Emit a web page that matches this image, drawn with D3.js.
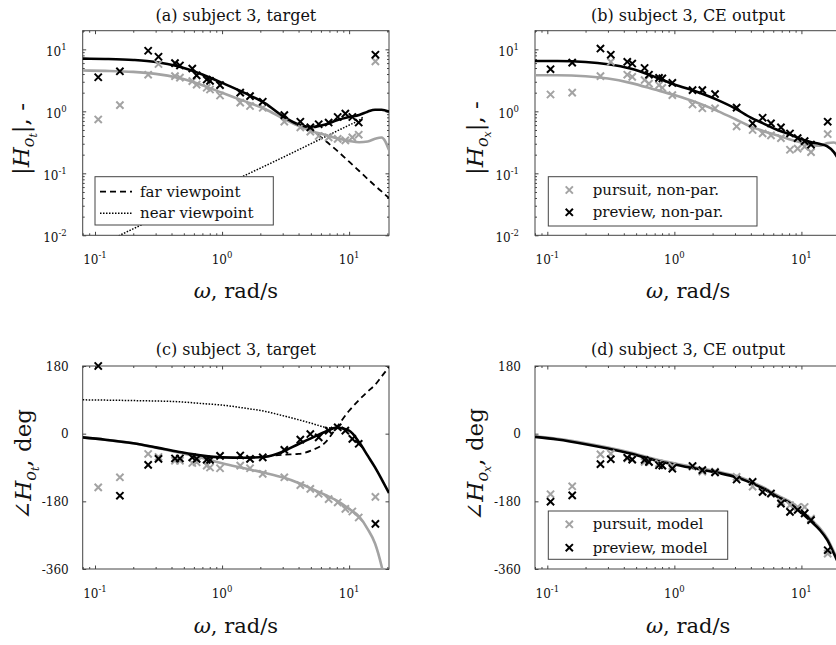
<!DOCTYPE html>
<html>
<head>
<meta charset="utf-8">
<script src="https://cdn.jsdelivr.net/npm/d3@7"></script>
<style>
  body { margin: 0; background: #fff; }
  svg { display: block; font-family: 'DejaVu Serif', serif; }
</style>
</head>
<body>
<script>
// ---- data ----
// frequencies of the non-parametric estimates, rad/s
const freq = [0.106, 0.157, 0.262, 0.316, 0.426, 0.466, 0.583, 0.631, 0.757, 0.804, 0.964, 1.39,
              1.66, 2.09, 3.09, 4.13, 4.95, 5.76, 6.90, 8.13, 9.34, 10.6, 11.9, 16.1];

// (a) |H_ot|
const magT_pursuit = [0.74, 1.26, 3.9, 5.8, 3.7, 3.5, 3.07, 2.7, 2.4, 2.25, 1.8, 1.38,
                      1.22, 1.14, 0.68, 0.55, 0.47, 0.40, 0.38, 0.36, 0.34, 0.38, 0.42, 6.4];
const magT_preview = [3.55, 4.43, 9.5, 7.6, 6.0, 5.5, 4.9, 3.8, 3.26, 3.1, 2.65, 2.0,
                      1.76, 1.43, 0.87, 0.68, 0.55, 0.62, 0.66, 0.81, 0.92, 0.81, 0.66, 8.2];
// (b) |H_ox|
const magX_pursuit = [1.87, 2.0, 3.7, 6.3, 3.9, 3.6, 3.2, 2.8, 2.64, 2.4, 1.83, 1.29,
                      1.12, 1.12, 0.57, 0.50, 0.44, 0.41, 0.37, 0.24, 0.25, 0.27, 0.22, 0.43];
const magX_preview = [4.78, 6.1, 10.3, 8.2, 6.3, 5.9, 5.0, 3.9, 3.47, 3.4, 2.88, 2.2,
                      2.2, 1.9, 1.15, 0.64, 0.79, 0.64, 0.55, 0.44, 0.37, 0.33, 0.29, 0.68];
// (c) phase H_ot, deg
const phT_pursuit = [-143, -116, -54, -62, -72, -72, -78, -76, -85, -90, -92, -85,
                     -92, -107, -116, -137, -147, -160, -174, -183, -200, -207, -223, -168];
const phT_preview = [180, -165, -83, -67, -66, -66, -63, -67, -69, -70, -59, -58,
                     -67, -63, -43, -16, -1, -10, 8, 17, 8, -14, -27, -240];
// (d) phase H_ox, deg
const phX_pursuit = [-161, -140, -55, -53, -66, -68, -75, -76, -79, -84, -86, -88,
                     -101, -101, -115, -141, -155, -160, -181, -190, -195, -195, -226, -319];
const phX_preview = [-181, -164, -81, -68, -64, -69, -70, -75, -84, -85, -93, -86,
                     -97, -103, -122, -128, -155, -159, -186, -208, -203, -212, -230, -310];

// model curves
const modelFreq = [0.08, 0.12, 0.2, 0.3, 0.45, 0.7, 1, 1.5, 2.2, 3, 4, 5, 6.5, 8, 10, 12, 14, 16, 18, 20.6];
const magT_pursuitModel = [4.55, 4.49, 4.33, 4.02, 3.47, 2.64, 1.99, 1.46, 1.08, 0.772, 0.582, 0.484,
                           0.417, 0.369, 0.334, 0.318, 0.326, 0.36, 0.378, 0.237];
const magT_previewModel = [7.08, 7.0, 6.75, 6.27, 5.33, 3.92, 2.88, 1.99, 1.33, 0.84, 0.615, 0.56,
                           0.615, 0.717, 0.81, 0.873, 0.988, 1.06, 1.06, 0.988];
const magX_pursuitModel = [3.83, 3.83, 3.69, 3.38, 2.88, 2.25, 1.83, 1.39, 1.01, 0.753, 0.567, 0.483,
                           0.407, 0.356, 0.314, 0.288, 0.278, 0.307, 0.314, 0.255];
const magX_previewModel = [6.5, 6.5, 6.26, 5.74, 4.9, 3.6, 2.71, 2.07, 1.52, 1.12, 0.79, 0.64,
                           0.50, 0.43, 0.356, 0.318, 0.296, 0.271, 0.22, 0.138];
const phT_pursuitModel = [-9.8, -16, -25.7, -37.3, -49.7, -64.7, -78.9, -92.2, -104.7, -116.2, -131.3, -145.5,
                          -163.2, -178.3, -200.4, -220.9, -253.7, -292, -352, -450];
const phT_previewModel = [-9.8, -16, -25.7, -36.4, -47.9, -58.5, -63, -63.9, -61.2, -47.9, -27.5, -12.4,
                          5.3, 16, 8, -23, -58.5, -89.6, -120.6, -157.9];
const phX_pursuitModel = [-7, -13.5, -25.5, -37, -50, -67.5, -79, -90.5, -101, -111.5, -127.5, -142.5,
                          -164.5, -179.5, -206.5, -230, -252, -279, -314, -358];
const phX_previewModel = [-8.4, -15.5, -27.9, -39.5, -52.8, -70.5, -82, -93.5, -104.2, -114.8, -130.8, -145.9,
                          -168.1, -183.1, -210.6, -234.5, -256.7, -283.3, -318.8, -363];

// far / near viewpoint contributions (target panels)
const farFreqMag = [3, 4, 5, 6.5, 8, 10, 12, 14, 16, 18, 20.6];
const magT_far = [0.84, 0.6, 0.5, 0.334, 0.234, 0.154, 0.109, 0.081, 0.063, 0.051, 0.040];
const nearFreqMag = [0.12, 0.166, 0.3, 1, 3, 6, 8, 10, 12, 13];
const magT_near = [0.0077, 0.0106, 0.019, 0.062, 0.18, 0.36, 0.48, 0.6, 0.72, 0.82];
const farFreqPh = [2.2, 3, 4, 5, 6.5, 8, 10, 12, 14, 16, 18, 20.6];
const phT_far = [-61.2, -56, -54, -45, -23, 17, 61, 90, 112, 130, 152, 177];
const nearFreqPh = [0.08, 0.2, 0.45, 0.7, 1, 1.5, 2.2, 3, 4, 5, 6.5, 8];
const phT_near = [90, 88, 85, 80, 76, 68, 59, 48, 37, 28, 17, 14];

// axes
const xDomain = [0.08, 20.6];
const magDomain = [0.01, 20];
const phaseDomain = [-360, 180];
const xMajor = [0.1, 1, 10];
const xTickLabels = ['-1', '0', '1'];
const magMajor = [0.01, 0.1, 1, 10];
const magTickLabels = ['-2', '-1', '0', '1'];
const phaseTicks = [-360, -180, 0, 180];

// ---- drawing ----
const W = 836, H = 645;
const axisColor = '#444';
const grayColor = '#a3a3a3';
const svg = d3.select('body').append('svg').attr('width', W).attr('height', H);

function minorTicks(domain) {
  const out = [];
  const lo = Math.floor(Math.log10(domain[0])), hi = Math.ceil(Math.log10(domain[1]));
  for (let e = lo; e < hi; e++) {
    for (let k = 2; k <= 9; k++) {
      const v = k * Math.pow(10, e);
      if (v >= domain[0] && v <= domain[1]) out.push(v);
    }
  }
  return out;
}

function drawPanel(p) {
  const g = svg.append('g');
  const x = d3.scaleLog().domain(xDomain).range([p.left, p.left + p.w]);
  const y = p.log
    ? d3.scaleLog().domain(magDomain).range([p.top + p.h, p.top])
    : d3.scaleLinear().domain(phaseDomain).range([p.top + p.h, p.top]);

  svg.append('clipPath').attr('id', 'clip-' + p.id)
    .append('rect').attr('x', p.left).attr('y', p.top).attr('width', p.w).attr('height', p.h);

  // inward ticks on all four sides
  const tickG = (axis, tx, ty) => g.append('g')
    .attr('transform', `translate(${tx},${ty})`)
    .call(axis)
    .call(s => {
      s.select('.domain').remove();
      s.selectAll('text').remove();
      s.selectAll('line').attr('stroke', axisColor);
    });
  const xm = minorTicks(xDomain);
  tickG(d3.axisBottom(x).tickValues(xm).tickSize(-2), 0, p.top + p.h);
  tickG(d3.axisTop(x).tickValues(xm).tickSize(-2), 0, p.top);
  tickG(d3.axisBottom(x).tickValues(xMajor).tickSize(-3.5), 0, p.top + p.h);
  tickG(d3.axisTop(x).tickValues(xMajor).tickSize(-3.5), 0, p.top);
  if (p.log) {
    const ym = minorTicks(magDomain);
    tickG(d3.axisLeft(y).tickValues(ym).tickSize(-2), p.left, 0);
    tickG(d3.axisRight(y).tickValues(ym).tickSize(-2), p.left + p.w, 0);
    tickG(d3.axisLeft(y).tickValues(magMajor).tickSize(-3.5), p.left, 0);
    tickG(d3.axisRight(y).tickValues(magMajor).tickSize(-3.5), p.left + p.w, 0);
  } else {
    tickG(d3.axisLeft(y).tickValues(phaseTicks).tickSize(-3.5), p.left, 0);
    tickG(d3.axisRight(y).tickValues(phaseTicks).tickSize(-3.5), p.left + p.w, 0);
  }

  // frame
  g.append('rect')
    .attr('x', p.left).attr('y', p.top).attr('width', p.w).attr('height', p.h)
    .attr('fill', 'none').attr('stroke', axisColor).attr('stroke-width', 1);

  // x tick labels: 10^k
  xMajor.forEach((v, i) => {
    const t = g.append('text')
      .attr('x', x(v)).attr('y', p.top + p.h + 29)
      .attr('text-anchor', 'middle').attr('font-size', 12).attr('fill', '#111');
    t.append('tspan').text('10');
    t.append('tspan').attr('dy', -6).attr('font-size', 8.5).text(xTickLabels[i]);
  });

  // y tick labels
  if (p.log) {
    magMajor.forEach((v, i) => {
      const t = g.append('text')
        .attr('x', p.left - 16).attr('y', y(v) + 7)
        .attr('text-anchor', 'end').attr('font-size', 12).attr('fill', '#111');
      t.append('tspan').text('10');
      t.append('tspan').attr('dy', -6).attr('font-size', 8.5).text(magTickLabels[i]);
    });
  } else {
    phaseTicks.forEach(v => {
      g.append('text')
        .attr('x', p.left - 14).attr('y', y(v) + 4.5)
        .attr('text-anchor', 'end').attr('font-size', 12).attr('fill', '#111')
        .text(v);
    });
  }

  // title
  g.append('text')
    .attr('x', p.left + p.w / 2).attr('y', p.top + p.titleDy)
    .attr('text-anchor', 'middle').attr('font-size', 16).attr('fill', '#111')
    .text(p.title);

  // x label
  const xl = g.append('text')
    .attr('x', p.left + p.w / 2).attr('y', p.top + p.h + p.xlabDy)
    .attr('text-anchor', 'middle').attr('font-size', 21).attr('fill', '#111');
  xl.append('tspan').attr('font-style', 'italic').text('ω');
  xl.append('tspan').text(', rad/s');

  // y label
  const yl = g.append('text')
    .attr('transform', `translate(${p.left + p.ylabDx},${p.top + p.h / 2 + p.ylabDy}) rotate(-90)`)
    .attr('text-anchor', 'middle').attr('font-size', 23).attr('fill', '#111');
  yl.append('tspan').text(p.log ? '|' : '∠');
  yl.append('tspan').attr('font-style', 'italic').text('H');
  yl.append('tspan').attr('font-style', 'italic').attr('font-size', 16).attr('dy', 5).text('o');
  yl.append('tspan').attr('font-style', 'italic').attr('font-size', 11).attr('dy', 3).text(p.sub);
  yl.append('tspan').attr('dy', -8).text(p.log ? '|, -' : ', deg');

  // curves
  const line = d3.line().x(d => x(d[0])).y(d => y(d[1])).curve(d3.curveMonotoneX);
  const lines = g.append('g').attr('clip-path', `url(#clip-${p.id})`);
  (p.extra || []).forEach(e => {
    lines.append('path').datum(d3.zip(e.f, e.v)).attr('d', line)
      .attr('fill', 'none').attr('stroke', '#000').attr('stroke-width', e.width)
      .attr('stroke-dasharray', e.dash);
  });
  lines.append('path').datum(d3.zip(modelFreq, p.grayModel)).attr('d', line)
    .attr('fill', 'none').attr('stroke', grayColor).attr('stroke-width', 2.6);
  lines.append('path').datum(d3.zip(modelFreq, p.blackModel)).attr('d', line)
    .attr('fill', 'none').attr('stroke', '#000').attr('stroke-width', 2.6);

  // non-parametric estimates: crosses
  const cross = 'M-3.6,-3.6L3.6,3.6M-3.6,3.6L3.6,-3.6';
  [[p.grayPts, grayColor], [p.blackPts, '#000']].forEach(([vals, col]) => {
    g.append('g').selectAll('path')
      .data(d3.zip(freq, vals))
      .join('path')
        .attr('transform', d => `translate(${x(d[0])},${y(d[1])})`)
        .attr('d', cross)
        .attr('fill', 'none').attr('stroke', col).attr('stroke-width', 2);
  });

  // legend
  if (p.legend) {
    const L = p.legend;
    const lg = g.append('g');
    lg.append('rect').attr('x', L.x).attr('y', L.y).attr('width', L.w).attr('height', L.h)
      .attr('fill', '#fff').attr('stroke', axisColor).attr('stroke-width', 1);
    L.items.forEach((it, i) => {
      const cy = L.y + L.rows[i];
      if (it.marker) {
        lg.append('path').attr('transform', `translate(${L.symX},${cy})`).attr('d', cross)
          .attr('fill', 'none').attr('stroke', it.color).attr('stroke-width', 2);
      } else {
        lg.append('line').attr('x1', L.symX - 16).attr('x2', L.symX + 16).attr('y1', cy).attr('y2', cy)
          .attr('stroke', '#000').attr('stroke-width', it.width).attr('stroke-dasharray', it.dash);
      }
      lg.append('text').attr('x', L.textX).attr('y', cy + 5)
        .attr('font-size', 15).attr('fill', '#111').text(it.label);
    });
  }
}

const left1 = 82.7, left2 = 535, pw = 306.3;
const top1 = 30.7, top2 = 366, h1 = 204.6, h2 = 203;

drawPanel({
  id: 'a', left: left1, top: top1, w: pw, h: h1, log: true, sub: 't',
  title: '(a) subject 3, target', titleDy: -10, xlabDy: 63, ylabDx: -54, ylabDy: 6,
  grayPts: magT_pursuit, blackPts: magT_preview,
  grayModel: magT_pursuitModel, blackModel: magT_previewModel,
  extra: [
    { f: farFreqMag, v: magT_far, width: 1.8, dash: '6,4' },
    { f: nearFreqMag, v: magT_near, width: 1.5, dash: '1.5,1.5' }
  ],
  legend: {
    x: 95, y: 176.7, w: 178.3, h: 48.3, symX: 116, textX: 140, rows: [15, 36.6],
    items: [
      { label: 'far viewpoint', width: 1.8, dash: '6,4' },
      { label: 'near viewpoint', width: 1.5, dash: '1.5,1.5' }
    ]
  }
});

drawPanel({
  id: 'b', left: left2, top: top1, w: pw, h: h1, log: true, sub: 'x',
  title: '(b) subject 3, CE output', titleDy: -10, xlabDy: 63, ylabDx: -52, ylabDy: 5,
  grayPts: magX_pursuit, blackPts: magX_preview,
  grayModel: magX_pursuitModel, blackModel: magX_previewModel,
  legend: {
    x: 548.3, y: 176.7, w: 208.7, h: 49.3, symX: 569.3, textX: 592.7, rows: [13.3, 35.6],
    items: [
      { label: 'pursuit, non-par.', marker: true, color: grayColor },
      { label: 'preview, non-par.', marker: true, color: '#000' }
    ]
  }
});

drawPanel({
  id: 'c', left: left1, top: top2, w: pw, h: h2, log: false, sub: 't',
  title: '(c) subject 3, target', titleDy: -11, xlabDy: 64, ylabDx: -52, ylabDy: -3,
  grayPts: phT_pursuit, blackPts: phT_preview,
  grayModel: phT_pursuitModel, blackModel: phT_previewModel,
  extra: [
    { f: farFreqPh, v: phT_far, width: 1.8, dash: '6,4' },
    { f: nearFreqPh, v: phT_near, width: 1.5, dash: '1.5,1.5' }
  ]
});

drawPanel({
  id: 'd', left: left2, top: top2, w: pw, h: h2, log: false, sub: 'x',
  title: '(d) subject 3, CE output', titleDy: -11, xlabDy: 64, ylabDx: -52, ylabDy: -3,
  grayPts: phX_pursuit, blackPts: phX_preview,
  grayModel: phX_pursuitModel, blackModel: phX_previewModel,
  legend: {
    x: 548.3, y: 511, w: 179.4, h: 48.3, symX: 569.3, textX: 592.7, rows: [13.3, 36.7],
    items: [
      { label: 'pursuit, model', marker: true, color: grayColor },
      { label: 'preview, model', marker: true, color: '#000' }
    ]
  }
});
</script>
</body>
</html>
